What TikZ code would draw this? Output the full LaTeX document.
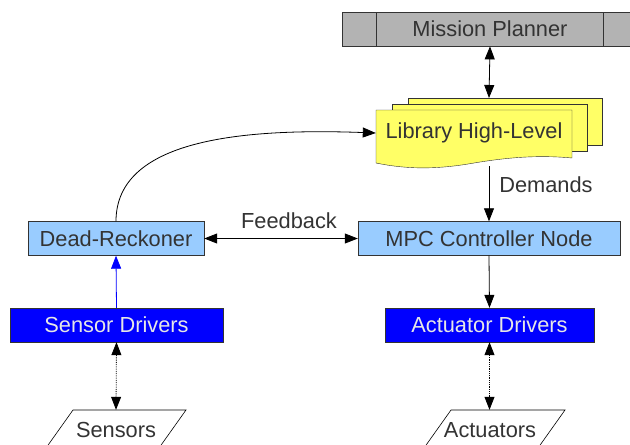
\documentclass[tikz,border=0pt]{standalone}
\usepackage{fontspec}
\setmainfont{Liberation Sans}
\usetikzlibrary{arrows.meta}
\definecolor{txt}{HTML}{333333}
\definecolor{lblue}{HTML}{99CCFF}
\definecolor{dblue}{HTML}{0000FF}
\definecolor{ylw}{HTML}{FFFF66}
\definecolor{gry}{HTML}{B3B3B3}
\definecolor{wtxt}{HTML}{E6E6E6}
\tikzset{
  tip/.tip={Triangle[length=13pt,width=10pt]},
  lbox/.style={draw=txt,fill=lblue,text=txt,minimum height=34pt,inner sep=0pt},
  dbox/.style={draw=txt,fill=dblue,text=wtxt,minimum height=34pt,inner sep=0pt},
  lbl/.style={text=txt,inner sep=0pt},
  conn/.style={draw=black,line width=0.8pt},
}
\begin{document}
\begin{tikzpicture}[x=1pt,y=-1pt,font=\fontsize{21.8}{26}\selectfont]
\useasboundingbox (0,0) rectangle (630,445);
% Mission Planner
\node[draw=txt,fill=gry,minimum width=300pt,minimum height=34pt,inner sep=0pt,anchor=north west] (mpbox) at (342,12) {};
\draw[txt] (376,12) -- (376,46) (603,12) -- (603,46);
\node[lbl] (mp) at (490,29) {Mission Planner};
% Library High-Level (multi document)
\draw[txt,fill=ylw] (408,98) rectangle (602,145);
\draw[txt,fill=ylw] (392,104) rectangle (587,151);
\draw[txt,fill=ylw] (376,110) -- (572,110) -- (572,158)
  .. controls (540,155) and (510,157) .. (474,163)
  .. controls (440,169) and (410,170) .. (376,163) -- cycle;
\node[lbl,minimum width=196pt,minimum height=46pt] (lib) at (474,133) {Library High-Level};
\coordinate (libtop) at (489,98);
\coordinate (libbot) at (489,166);
% MPC & Dead reckoner
\node[lbox,minimum width=262pt] (mpc) at (489,238.5) {MPC Controller Node};
\node[lbox,minimum width=176pt] (dr) at (116,238.5) {Dead-Reckoner};
% Drivers
\node[dbox,minimum width=213pt] (sd) at (116.5,325) {Sensor Drivers};
\node[dbox,minimum width=209pt] (ad) at (489.5,325) {Actuator Drivers};
% Sensors / Actuators parallelograms
\draw[black,line width=0.6pt] (73,410) -- (186,410) -- (159,448) -- (46,448) -- cycle;
\draw[black,line width=0.6pt] (451,410) -- (565,410) -- (538,448) -- (424,448) -- cycle;
\node[lbl,minimum height=40pt] (sens) at (116,430) {Sensors};
\node[lbl,minimum height=40pt] (act) at (490,430) {Actuators};
% connectors
\draw[conn,{tip}-{tip}] (mp.south |- mpbox.south) -- (libtop);
\draw[conn,-{tip}] (libbot) -- (mpc.north -| libbot);
\node[lbl] (dem) at (546,185) {Demands};
\draw[conn,{tip}-{tip}] (dr.east) -- (mpc.west);
\node[lbl] (fb) at (289,221) {Feedback};
\draw[conn,-{tip}] (dr.north) .. controls (116,140) and (240,128) .. (lib.west);
\draw[dblue,line width=0.8pt,-{tip}] (sd.north) -- (dr.south);
\draw[conn,-{tip}] (mpc.south) -- (ad.north);
\draw[conn,densely dotted,{tip}-{tip}] (sd.south) -- (sens.north);
\draw[conn,densely dotted,{tip}-{tip}] (ad.south) -- (act.north -| ad.south);
\end{tikzpicture}
\end{document}
